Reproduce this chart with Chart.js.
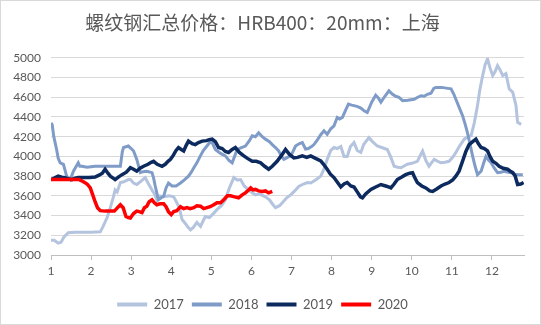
<!DOCTYPE html>
<html lang="zh">
<head>
<meta charset="UTF-8" />
<title>螺纹钢汇总价格</title>
<script src="https://cdn.jsdelivr.net/npm/chart.js"></script>
<style>
  html, body { margin: 0; padding: 0; background: #fff; }
  #wrap { width: 541px; height: 325px; box-sizing: border-box; border: 1px solid #d9d9d9; position: relative; }
</style>
</head>
<body>
<div id="wrap"><canvas id="c"></canvas></div>
<script>
// x = month (1..12.8), y = price (元/吨)
const m2017 = [1.0,1.08,1.18,1.25,1.32,1.43,1.6,1.8,2.0,2.23,2.3,2.4,2.48,2.55,2.6,2.65,2.73,2.8,2.93,2.98,3.06,3.14,3.22,3.35,3.42,3.52,3.58,3.64,3.72,3.81,3.95,4.06,4.14,4.2,4.27,4.35,4.42,4.48,4.55,4.64,4.73,4.8,4.85,4.95,5.05,5.14,5.25,5.35,5.45,5.56,5.65,5.73,5.82,5.93,6.02,6.1,6.2,6.35,6.45,6.52,6.6,6.7,6.77,6.88,6.98,7.08,7.18,7.3,7.4,7.48,7.6,7.73,7.82,7.89,7.98,8.06,8.14,8.23,8.31,8.39,8.47,8.56,8.64,8.73,8.8,8.93,9.02,9.14,9.25,9.39,9.47,9.56,9.65,9.73,9.89,10.0,10.14,10.2,10.27,10.35,10.43,10.5,10.56,10.65,10.73,10.83,10.93,11.02,11.1,11.2,11.31,11.4,11.48,11.56,11.64,11.7,11.77,11.83,11.89,11.95,12.02,12.08,12.14,12.2,12.27,12.35,12.43,12.52,12.6,12.64,12.73];
const p2017 = [3150,3150,3120,3130,3180,3225,3230,3230,3230,3235,3290,3380,3480,3580,3660,3640,3735,3740,3765,3765,3730,3715,3740,3785,3730,3660,3620,3560,3600,3590,3600,3590,3530,3480,3360,3320,3280,3255,3280,3330,3290,3350,3390,3380,3420,3460,3500,3560,3680,3785,3760,3765,3700,3660,3630,3610,3620,3590,3560,3520,3480,3500,3530,3580,3610,3650,3695,3720,3735,3730,3760,3800,3880,3970,4060,4090,4080,4100,4000,4000,4100,4140,4060,4040,4120,4190,4150,4105,4090,4070,4000,3900,3890,3885,3920,3930,3950,4000,4055,3960,3900,3940,3970,3950,3935,3940,3950,3990,4040,4110,4175,4200,4210,4340,4515,4680,4820,4930,4990,4900,4820,4860,4920,4880,4820,4840,4685,4650,4515,4345,4325];

const m2018 = [1.0,1.03,1.07,1.14,1.18,1.23,1.31,1.35,1.39,1.48,1.56,1.68,1.72,1.77,1.9,2.1,2.3,2.5,2.73,2.78,2.81,2.93,3.0,3.06,3.14,3.23,3.3,3.39,3.52,3.56,3.6,3.68,3.75,3.81,3.87,3.93,4.02,4.12,4.23,4.32,4.43,4.5,4.57,4.64,4.72,4.8,4.89,4.96,5.02,5.1,5.23,5.35,5.44,5.52,5.58,5.64,5.75,5.85,5.95,6.02,6.1,6.18,6.27,6.35,6.45,6.52,6.6,6.68,6.75,6.81,6.9,6.98,7.05,7.1,7.2,7.27,7.35,7.42,7.5,7.56,7.65,7.73,7.81,7.89,7.98,8.06,8.14,8.2,8.27,8.35,8.42,8.5,8.56,8.65,8.73,8.82,8.89,9.0,9.1,9.17,9.23,9.33,9.43,9.52,9.6,9.68,9.77,9.9,10.06,10.15,10.23,10.31,10.39,10.48,10.55,10.6,10.75,10.9,10.98,11.05,11.1,11.18,11.27,11.33,11.39,11.45,11.52,11.58,11.64,11.73,11.8,11.85,11.92,11.98,12.06,12.14,12.22,12.31,12.4,12.48,12.56,12.64,12.77];
const p2018 = [4340,4320,4200,4070,3980,3935,3920,3860,3800,3765,3850,3935,3900,3900,3890,3900,3900,3900,3900,4050,4090,4105,4080,4055,3970,3835,3845,3850,3835,3780,3700,3560,3580,3595,3680,3730,3700,3700,3730,3760,3800,3840,3890,3935,4000,4060,4105,4140,4140,4070,4030,4005,3960,3935,4000,4070,4090,4105,4160,4210,4200,4240,4200,4175,4150,4120,4090,4055,4000,3970,3990,4005,4060,4105,4130,4140,4075,4080,4100,4120,4170,4220,4260,4225,4280,4310,4395,4380,4395,4470,4530,4520,4515,4505,4490,4460,4445,4550,4620,4590,4550,4610,4665,4630,4610,4600,4565,4570,4580,4600,4615,4610,4630,4640,4690,4700,4700,4690,4685,4630,4580,4500,4410,4330,4240,4130,4000,3900,3815,3850,3940,4000,3960,3935,3880,3835,3840,3850,3840,3835,3820,3815,3815];

const m2019 = [1.0,1.08,1.18,1.27,1.35,1.45,1.52,1.6,1.68,1.8,1.95,2.1,2.2,2.28,2.35,2.42,2.48,2.55,2.6,2.68,2.77,2.88,2.98,3.06,3.14,3.22,3.31,3.42,3.5,3.56,3.65,3.77,3.85,3.92,3.98,4.05,4.12,4.18,4.25,4.31,4.37,4.43,4.52,4.6,4.68,4.77,4.88,4.95,5.02,5.1,5.18,5.27,5.35,5.43,5.52,5.6,5.7,5.81,5.9,6.02,6.12,6.23,6.33,6.43,6.52,6.64,6.75,6.85,6.95,7.06,7.15,7.27,7.38,7.48,7.6,7.73,7.8,7.89,7.97,8.06,8.14,8.23,8.31,8.39,8.48,8.56,8.64,8.72,8.77,8.85,8.98,9.1,9.23,9.35,9.42,9.48,9.56,9.64,9.75,9.85,9.95,10.02,10.08,10.14,10.25,10.35,10.45,10.52,10.62,10.73,10.83,10.93,11.02,11.1,11.18,11.27,11.35,11.43,11.52,11.6,11.66,11.73,11.81,11.89,11.95,12.02,12.1,12.18,12.28,12.39,12.46,12.52,12.58,12.64,12.72,12.79];
const p2019 = [3765,3780,3800,3790,3785,3770,3765,3780,3785,3785,3785,3790,3810,3830,3870,3830,3800,3780,3765,3790,3815,3840,3885,3870,3850,3880,3900,3920,3940,3950,3920,3900,3920,3950,3970,4010,4060,4090,4070,4055,4110,4155,4130,4120,4140,4155,4160,4170,4175,4150,4090,4080,4050,4040,4070,4090,4040,4005,3980,3950,3950,3935,3900,3870,3900,3950,4010,4070,4020,3985,3990,4005,3990,4005,3980,3955,3920,3870,3820,3785,3740,3690,3720,3735,3700,3690,3640,3590,3580,3620,3665,3690,3715,3700,3690,3680,3720,3765,3790,3815,3830,3835,3780,3735,3700,3680,3650,3645,3670,3700,3720,3735,3760,3800,3850,3955,4050,4120,4150,4175,4130,4090,4080,4055,4000,3950,3930,3900,3880,3870,3850,3835,3800,3715,3720,3735];

const m2020 = [1.0,1.2,1.4,1.6,1.7,1.8,1.9,1.98,2.05,2.1,2.16,2.23,2.35,2.5,2.58,2.66,2.73,2.8,2.87,2.93,2.98,3.06,3.14,3.2,3.27,3.33,3.39,3.45,3.52,3.58,3.64,3.72,3.81,3.87,3.93,4.0,4.06,4.14,4.23,4.31,4.39,4.47,4.56,4.64,4.73,4.81,4.89,4.97,5.06,5.14,5.23,5.31,5.4,5.48,5.58,5.68,5.77,5.85,5.93,5.98,6.04,6.1,6.18,6.27,6.35,6.43,6.52];
const p2020 = [3765,3765,3765,3765,3765,3745,3720,3680,3600,3540,3480,3450,3445,3445,3445,3480,3510,3480,3390,3380,3375,3420,3445,3440,3430,3480,3495,3540,3560,3530,3510,3520,3520,3490,3440,3410,3440,3450,3490,3470,3480,3470,3480,3500,3495,3470,3480,3490,3510,3530,3530,3560,3600,3600,3590,3580,3610,3630,3660,3680,3660,3665,3650,3645,3650,3630,3645];

const years = ['2017', '2018', '2019', '2020'];
const colors = ['#b4c3de', '#7f9bc8', '#0d2a5e', '#ff0000'];
const xTicks = [1, 2, 3, 4, 5, 6, 7, 8, 9, 10, 11, 12];
const yTicks = [3000, 3200, 3400, 3600, 3800, 4000, 4200, 4400, 4600, 4800, 5000];

const xs = [m2017, m2018, m2019, m2020];
const ys = [p2017, p2018, p2019, p2020];

const datasets = years.map((y, i) => ({
  label: y,
  data: xs[i].map((m, j) => ({ x: m, y: ys[i][j] })),
  borderColor: colors[i],
  backgroundColor: colors[i],
  borderWidth: i >= 2 ? 3.5 : 3,
  pointRadius: 0,
  tension: 0,
  order: 4 - i
}));

const txt = '#595959';
const numFont = { family: 'Lato, "Liberation Sans", sans-serif', size: 12 };

new Chart(document.getElementById('c'), {
  type: 'line',
  data: { datasets: datasets },
  options: {
    responsive: true,
    maintainAspectRatio: false,
    animation: false,
    layout: { padding: { left: 0, right: 16, top: 0, bottom: 3 } },
    plugins: {
      title: {
        display: true,
        text: '螺纹钢汇总价格：HRB400：20mm：上海',
        color: txt,
        font: { family: '"Noto Sans CJK SC", sans-serif', size: 19, weight: 'normal' },
        padding: { top: 10, bottom: 24 }
      },
      legend: {
        position: 'bottom',
        labels: {
          color: txt,
          font: { family: 'Lato, "Liberation Sans", sans-serif', size: 13 },
          boxWidth: 30,
          boxHeight: 4,
          padding: 8,
          sort: (a, b) => a.datasetIndex - b.datasetIndex,
          generateLabels: (chart) => {
            const items = Chart.defaults.plugins.legend.labels.generateLabels(chart);
            items.forEach(it => { it.lineWidth = 0; });
            return items;
          }
        }
      },
      tooltip: { enabled: false }
    },
    scales: {
      x: {
        type: 'linear',
        min: 1,
        max: 12.8,
        afterBuildTicks: (s) => { s.ticks = xTicks.map(v => ({ value: v })); },
        afterFit: (s) => { s.height = 35; },
        ticks: { color: txt, font: numFont, padding: 4, maxRotation: 0, callback: v => String(v) },
        grid: { drawOnChartArea: false, drawTicks: true, tickLength: 5, color: '#bfbfbf' },
        border: { color: '#bfbfbf' }
      },
      y: {
        min: 3000,
        max: 5000,
        afterBuildTicks: (s) => { s.ticks = yTicks.map(v => ({ value: v })); },
        afterFit: (s) => { s.width = 50; },
        ticks: { color: txt, font: numFont, padding: 10, callback: v => String(v) },
        grid: { color: '#d9d9d9', drawTicks: false },
        border: { display: false }
      }
    }
  }
});
</script>
</body>
</html>
